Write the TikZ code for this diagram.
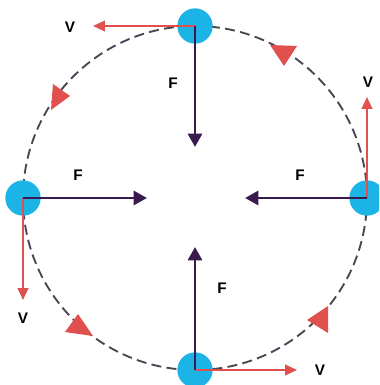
\documentclass[tikz,border=0pt]{standalone}
\usepackage{fontspec}
\setmainfont{Liberation Sans}
\usetikzlibrary{arrows.meta}
\definecolor{cmBall}{HTML}{1CB4E6}
\definecolor{cmForce}{HTML}{3A1A4E}
\definecolor{cmVel}{HTML}{E0504E}
\definecolor{cmPath}{HTML}{4B4453}
\tikzset{
  cmball/.style={circle, fill=cmBall, minimum size=26.5pt, inner sep=0pt},
  cmforce/.style={-{Triangle[length=10pt, width=10.5pt]}, line width=2.2pt, draw=cmForce},
  cmvel/.style={-{Triangle[length=9pt, width=8pt]}, line width=1.6pt, draw=cmVel},
  cmpath/.style={draw=cmPath, line width=1.4pt, dash pattern=on 7.5pt off 4pt},
  cmmark/.style={fill=cmVel},
  cmlabel/.style={font=\bfseries\fontsize{11.5}{13}\selectfont, inner sep=0pt},
}

\begin{document}
\begin{tikzpicture}[x=0.75pt, y=0.75pt]
  \useasboundingbox (-195,-187) rectangle (184,198);
  \clip (-195,-187) rectangle (184,198);

  % --- Path of the body -------------------------------------------------
  \coordinate (centre) at (0,0);
  \draw[cmpath] (centre) circle[radius=172];

  % direction marks on the path
  \fill[cmmark] (75,153) -- (102,152) -- (89,132) -- cycle;
  \fill[cmmark] (-142,114) -- (-125,102) -- (-144,88) -- cycle;
  \fill[cmmark] (-117,-116) -- (-102,-138) -- (-130,-134) -- cycle;
  \fill[cmmark] (133,-108) -- (112,-122) -- (133,-135) -- cycle;

  % --- Body in four positions --------------------------------------------
  \node[cmball] (ballTop)    at (0,172)   {};
  \node[cmball] (ballLeft)   at (-172,0)  {};
  \node[cmball] (ballRight)  at (172,0)   {};
  \node[cmball] (ballBottom) at (0,-172)  {};

  % --- Velocity (tangent) -------------------------------------------------
  \coordinate (vTop)    at (-102,172);
  \coordinate (vLeft)   at (-172,-102);
  \coordinate (vRight)  at (172,101);
  \coordinate (vBottom) at (102,-172);
  \draw[cmvel] (ballTop.center)    -- (vTop);
  \draw[cmvel] (ballLeft.center)   -- (vLeft);
  \draw[cmvel] (ballRight.center)  -- (vRight);
  \draw[cmvel] (ballBottom.center) -- (vBottom);

  \node[cmlabel] (lblVTop)    at (-125,171)  {V};
  \node[cmlabel] (lblVLeft)   at (-172,-120) {V};
  \node[cmlabel] (lblVRight)  at (173,116)   {V};
  \node[cmlabel] (lblVBottom) at (125,-172)  {V};

  % --- Centripetal force (towards centre) --------------------------------
  \coordinate (fTop)    at (0,51);
  \coordinate (fLeft)   at (-48,0);
  \coordinate (fRight)  at (50,0);
  \coordinate (fBottom) at (0,-49);
  \draw[cmforce] (ballTop.center)    -- (fTop);
  \draw[cmforce] (ballLeft.center)   -- (fLeft);
  \draw[cmforce] (ballRight.center)  -- (fRight);
  \draw[cmforce] (ballBottom.center) -- (fBottom);

  \node[cmlabel] (lblFTop)    at (-22,115)  {F};
  \node[cmlabel] (lblFLeft)   at (-117,23)  {F};
  \node[cmlabel] (lblFRight)  at (105,23)   {F};
  \node[cmlabel] (lblFBottom) at (27,-90)   {F};

\end{tikzpicture}
\end{document}
